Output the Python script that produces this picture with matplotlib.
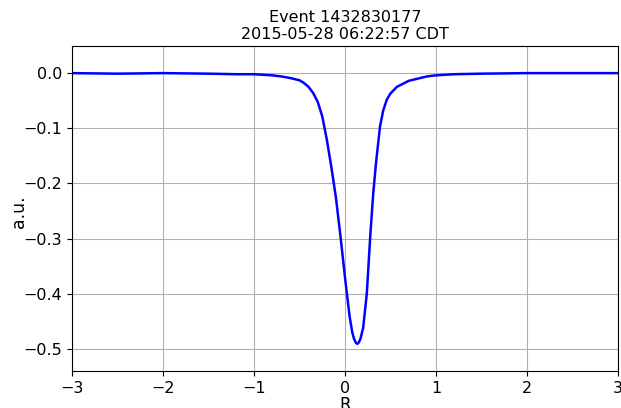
import matplotlib
matplotlib.use("Agg")
import matplotlib.pyplot as plt

# radius values and signal
r = [-3.0, -2.5, -2.0, -1.5, -1.2, -1.0, -0.8, -0.7, -0.6, -0.5, -0.45, -0.4,
     -0.35, -0.3, -0.25, -0.2, -0.15, -0.1, -0.05, 0.0, 0.05, 0.08, 0.1, 0.12,
     0.135, 0.15, 0.17, 0.2, 0.24, 0.28, 0.31, 0.34, 0.385, 0.42, 0.46, 0.5,
     0.57, 0.7, 0.8, 0.9, 1.0, 1.2, 1.5, 2.0, 2.5, 3.0]
signal = [0.000, -0.001, 0.000, -0.001, -0.002, -0.002, -0.004, -0.006, -0.009,
          -0.013, -0.018, -0.025, -0.036, -0.052, -0.078, -0.120, -0.170, -0.225,
          -0.295, -0.370, -0.440, -0.470, -0.482, -0.489, -0.491, -0.489, -0.482,
          -0.462, -0.400, -0.290, -0.220, -0.165, -0.097, -0.068, -0.048, -0.037,
          -0.025, -0.014, -0.010, -0.006, -0.004, -0.002, -0.001, 0.000, 0.000, 0.000]

title = "Event 1432830177\n2015-05-28 06:22:57 CDT"

fig = plt.figure(figsize=(6.21, 4.08), dpi=100)
ax = fig.add_axes([0.116, 0.091, 0.879, 0.796])
ax.plot(r, signal, color="blue", linewidth=1.8)
ax.set_xlim(-3, 3)
ax.set_ylim(-0.54, 0.049)
ax.set_xticks([-3, -2, -1, 0, 1, 2, 3])
ax.set_yticks([0.0, -0.1, -0.2, -0.3, -0.4, -0.5])
ax.tick_params(labelsize=11.5)
ax.grid(True, color="#b0b0b0", linewidth=0.8)
ax.set_xlabel("R", fontsize=12)
ax.xaxis.set_label_coords(0.5, -0.077)
ax.set_ylabel("a.u.", fontsize=12.5)
ax.yaxis.set_label_coords(-0.08, 0.49)
ax.set_title(title, fontsize=11.5, pad=5)

fig.savefig("out.png", dpi=100)
